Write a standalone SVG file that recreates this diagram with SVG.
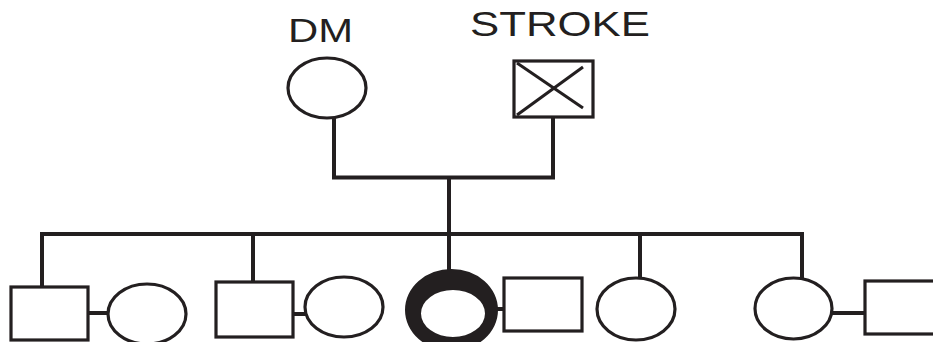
<svg xmlns="http://www.w3.org/2000/svg" width="933" height="342" viewBox="0 0 933 342">
<style>
.s{fill:none;stroke:#231f20;stroke-width:4}
.f{fill:#fff;stroke:#231f20;stroke-width:3.2}
.x{stroke:#231f20;stroke-width:3}
.t{font-family:"Liberation Sans",Arial,sans-serif;fill:#231f20}
</style>
<rect width="933" height="342" fill="#fff"/>
<g id="connectors" class="s">
<polyline points="334,118 334,177.5 553,177.5 553,117"/>
<line x1="449" y1="177" x2="449" y2="272"/>
<polyline points="42,287 42,234 802,234 802,278"/>
<line x1="253" y1="234" x2="253" y2="282"/>
<line x1="640" y1="234" x2="640" y2="278"/>
<line x1="88" y1="313" x2="108" y2="313"/>
<line x1="293" y1="314" x2="306" y2="314"/>
<line x1="495" y1="309" x2="504" y2="309"/>
<line x1="832" y1="313" x2="865" y2="313"/>
</g>
<g id="dm">
<text class="t" x="288" y="42" font-size="33" textLength="65" lengthAdjust="spacingAndGlyphs">DM</text>
<ellipse class="f" cx="327" cy="88" rx="39" ry="30"/>
</g>
<g id="stroke">
<text class="t" x="470" y="36" font-size="35" textLength="180" lengthAdjust="spacingAndGlyphs">STROKE</text>
<rect class="f" x="514" y="61" width="79" height="56"/>
<line class="x" x1="517" y1="63" x2="583" y2="108"/>
<line class="x" x1="517" y1="115" x2="583" y2="67"/>
</g>
<g id="son1"><rect class="f" x="11" y="287" width="77" height="53"/></g>
<g id="wife1"><ellipse class="f" cx="147" cy="314" rx="39" ry="30"/></g>
<g id="son2"><rect class="f" x="216" y="282" width="77" height="55"/></g>
<g id="wife2"><ellipse class="f" cx="344" cy="307" rx="39" ry="30"/></g>
<g id="proband"><path fill="#231f20" fill-rule="evenodd" d="M405,310 a46.5,41 0 1,0 93,0 a46.5,41 0 1,0 -93,0 Z M421,313.5 a32,23.5 0 1,0 64,0 a32,23.5 0 1,0 -64,0 Z"/></g>
<g id="husband3"><rect class="f" x="504" y="278" width="78" height="53"/></g>
<g id="daughter4"><ellipse class="f" cx="636" cy="309" rx="39" ry="31"/></g>
<g id="daughter5"><ellipse class="f" cx="793.5" cy="308.5" rx="38.5" ry="30.5"/></g>
<g id="husband5"><rect class="f" x="865" y="281" width="80" height="53"/></g>
</svg>
